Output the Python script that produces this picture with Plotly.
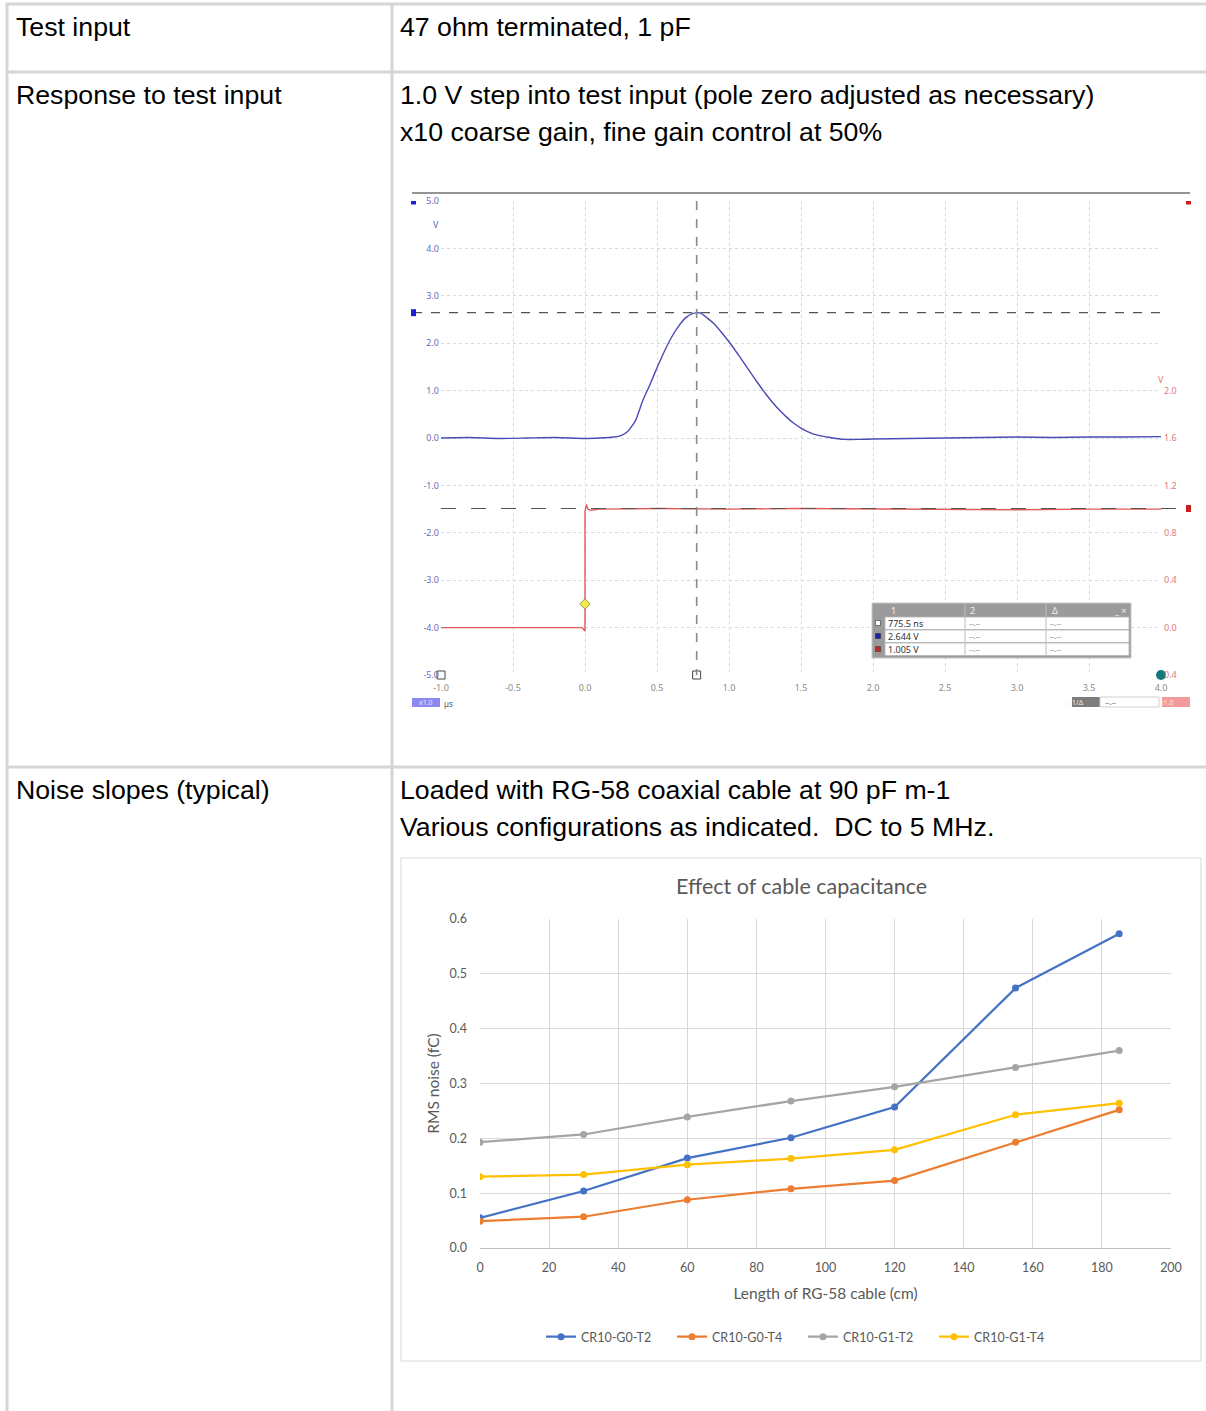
import plotly.graph_objects as go

W, H = 1206, 1411


def px(x):
    return x / W


def py(y):
    return 1 - y / H


# ------------------------------------------------------------------ data
# Oscilloscope, channel A (blue, left axis, V) vs time (us)
scope_t_a = [-1.0, -0.8, -0.6, -0.4, -0.2, 0.0, 0.1, 0.2, 0.25, 0.3, 0.35, 0.4, 0.45,
             0.5, 0.55, 0.6, 0.65, 0.7, 0.75, 0.8, 0.85, 0.9, 0.95, 1.0, 1.05, 1.1,
             1.15, 1.2, 1.25, 1.3, 1.35, 1.4, 1.45, 1.5, 1.55, 1.6, 1.7, 1.8, 1.9,
             2.0, 2.25, 2.5, 2.75, 3.0, 3.25, 3.5, 3.75, 4.0]
scope_v_a = [0.00, 0.01, -0.01, 0.00, 0.01, -0.01, 0.00, 0.02, 0.05, 0.15, 0.36, 0.78,
             1.12, 1.48, 1.82, 2.12, 2.36, 2.54, 2.63, 2.64, 2.53, 2.40, 2.22, 2.03,
             1.82, 1.60, 1.38, 1.16, 0.95, 0.76, 0.59, 0.44, 0.31, 0.21, 0.13, 0.07,
             0.01, -0.03, -0.03, -0.02, -0.01, 0.00, 0.01, 0.02, 0.01, 0.02, 0.02, 0.03]

# Oscilloscope, channel B (red, right axis, V) vs time (us)
scope_t_b = [-1.0, -0.6, -0.2, -0.02, 0.0, 0.0, 0.01, 0.02, 0.04, 0.1, 0.5, 1.0, 1.5,
             2.0, 2.5, 3.0, 3.5, 4.0]
scope_v_b = [0.0, 0.0, 0.0, 0.0, -0.03, 0.98, 1.04, 1.0, 0.99, 1.0, 1.005, 1.0, 1.005,
             1.0, 1.0, 0.995, 1.0, 1.0]

scope_x_ticks = [-1.0, -0.5, 0.0, 0.5, 1.0, 1.5, 2.0, 2.5, 3.0, 3.5, 4.0]
scope_x_text = ["-1.0", "-0.5", "0.0", "0.5", "1.0", "1.5", "2.0", "2.5", "3.0", "3.5", "4.0"]
scope_yl_ticks = [-5, -4, -3, -2, -1, 0, 1, 2, 3, 4, 5]
scope_yl_text = ["-5.0", "-4.0", "-3.0", "-2.0", "-1.0", "0.0", "1.0", "2.0", "3.0", "4.0", "5.0"]
scope_yr_ticks = [-0.4, 0.0, 0.4, 0.8, 1.2, 1.6, 2.0]
scope_yr_text = ["0.4", "0.0", "0.4", "0.8", "1.2", "1.6", "2.0"]
scope_yr_range = [-0.4, 3.6]

# cursor readings
cursor_time_us = [0.7755]
cursor_a_volts = [2.644]
cursor_b_volts = [1.005]
trigger_t = [0.0]
trigger_v = [0.2]

meas_rows = ["775.5 ns", "2.644 V", "1.005 V"]
meas_empty = "--.--"

# Excel chart: RMS noise (fC) vs cable length (cm)
cable_len = [0, 30, 60, 90, 120, 155, 185]
g0t2 = [0.055, 0.104, 0.164, 0.201, 0.257, 0.474, 0.573]
g0t4 = [0.049, 0.057, 0.088, 0.108, 0.123, 0.193, 0.252]
g1t2 = [0.193, 0.207, 0.239, 0.268, 0.294, 0.329, 0.360]
g1t4 = [0.130, 0.134, 0.152, 0.163, 0.179, 0.243, 0.264]
series_names = ["CR10-G0-T2", "CR10-G0-T4", "CR10-G1-T2", "CR10-G1-T4"]
series_colors = ["#4472C4", "#ED7D31", "#A5A5A5", "#FFC000"]

# ------------------------------------------------------------------ figure
fig = go.Figure()

BLUE = "#4b4bb5"
RED = "#e05a5a"

fig.add_trace(go.Scatter(x=scope_t_a, y=scope_v_a, mode="lines", xaxis="x", yaxis="y",
                         line=dict(color=BLUE, width=1.4, shape="spline", smoothing=0.5),
                         showlegend=False, hoverinfo="skip"))
fig.add_trace(go.Scatter(x=scope_t_b, y=scope_v_b, mode="lines", xaxis="x", yaxis="y2",
                         line=dict(color=RED, width=1.4), showlegend=False, hoverinfo="skip"))
fig.add_trace(go.Scatter(x=trigger_t, y=trigger_v, mode="markers", xaxis="x", yaxis="y2",
                         marker=dict(symbol="diamond", size=8, color="#f2e94e",
                                     line=dict(color="#9a9a40", width=1)),
                         showlegend=False, hoverinfo="skip", cliponaxis=False))
# open squares at bottom (time cursor handles), teal dot
fig.add_trace(go.Scatter(x=[scope_x_ticks[0], cursor_time_us[0]], y=[scope_yl_ticks[0]] * 2,
                         mode="markers", xaxis="x", yaxis="y",
                         marker=dict(symbol="square-open", size=8, color="#444",
                                     line=dict(width=1)),
                         showlegend=False, hoverinfo="skip", cliponaxis=False))
fig.add_trace(go.Scatter(x=[scope_x_ticks[-1]], y=[scope_yl_ticks[0]], mode="markers",
                         xaxis="x", yaxis="y",
                         marker=dict(symbol="circle", size=10, color="#127a7a"),
                         showlegend=False, hoverinfo="skip", cliponaxis=False))

for name, vals, col in zip(series_names, [g0t2, g0t4, g1t2, g1t4], series_colors):
    fig.add_trace(go.Scatter(x=cable_len, y=vals, name=name, mode="lines+markers",
                             xaxis="x2", yaxis="y3",
                             line=dict(color=col, width=2.25),
                             marker=dict(color=col, size=7), hoverinfo="skip"))

shapes = []
annotations = []

# ---------------- table grid
TL = "#d6d6d6"
for yy in [4, 72, 767]:
    shapes.append(dict(type="line", xref="paper", yref="paper", x0=px(6), x1=px(1206),
                       y0=py(yy), y1=py(yy), line=dict(color=TL, width=3)))
for xx in [7, 392]:
    shapes.append(dict(type="line", xref="paper", yref="paper", x0=px(xx), x1=px(xx),
                       y0=py(3), y1=py(1411), line=dict(color=TL, width=3)))

TF = dict(family="Liberation Sans, Arial", size=26.7, color="#000")
cells = [
    (14, 27, "Test input"),
    (398, 27, "47 ohm terminated, 1 pF"),
    (14, 95, "Response to test input"),
    (398, 95, "1.0 V step into test input (pole zero adjusted as necessary)"),
    (398, 132, "x10 coarse gain, fine gain control at 50%"),
    (14, 790, "Noise slopes (typical)"),
    (398, 790, "Loaded with RG-58 coaxial cable at 90 pF m-1"),
    (398, 827, "Various configurations as indicated.\u00a0 DC to 5 MHz."),
]
for x, y, t in cells:
    annotations.append(dict(text=t, x=px(x), y=py(y), xref="paper", yref="paper",
                            xanchor="left", yanchor="middle", showarrow=False, font=TF))

# ---------------- oscilloscope decorations
shapes.append(dict(type="line", xref="paper", yref="paper", x0=px(412), x1=px(1190),
                   y0=py(193), y1=py(193), line=dict(color="#2a2a2a", width=1.2)))
# cursor lines
shapes.append(dict(type="line", xref="x", yref="paper", x0=cursor_time_us[0],
                   x1=cursor_time_us[0], y0=py(201), y1=py(675),
                   line=dict(color="#8a8a8a", width=1.6, dash="dash")))
shapes.append(dict(type="line", xref="paper", yref="y", x0=px(413), x1=px(1161),
                   y0=cursor_a_volts[0], y1=cursor_a_volts[0],
                   line=dict(color="#555", width=1.2, dash="dash")))
shapes.append(dict(type="line", xref="paper", yref="y2", x0=px(441), x1=px(1190),
                   y0=cursor_b_volts[0], y1=cursor_b_volts[0],
                   line=dict(color="#555", width=1.2, dash="longdash")))
# channel markers
for yv in [scope_yl_ticks[-1], cursor_a_volts[0]]:
    shapes.append(dict(type="rect", xref="paper", yref="y", x0=px(411), x1=px(416),
                       ysizemode="pixel", yanchor=yv, y0=-3.5, y1=3.5,
                       fillcolor="#1f1fd0", line=dict(width=0)))
for yv in [scope_yr_range[1], cursor_b_volts[0]]:
    shapes.append(dict(type="rect", xref="paper", yref="y2", x0=px(1186), x1=px(1191),
                       ysizemode="pixel", yanchor=yv, y0=-3.5, y1=3.5,
                       fillcolor="#c81e1e", line=dict(width=0)))
annotations.append(dict(text="V", x=px(436), y=py(216), xref="paper", yref="paper",
                        showarrow=False, font=dict(size=9, color="#6a6ab8", family="Noto Sans")))
annotations.append(dict(text="V", x=px(1166), y=py(371), xref="paper", yref="paper",
                        showarrow=False, font=dict(size=9, color="#e07878", family="Noto Sans")))

# measurement box
shapes.append(dict(type="rect", xref="paper", yref="paper", x0=px(872), x1=px(1131),
                   y0=py(603), y1=py(658), fillcolor="#9b9b9b",
                   line=dict(color="#c8c8c8", width=1)))
for r in range(3):
    y0 = 617 + r * 13
    shapes.append(dict(type="rect", xref="paper", yref="paper", x0=px(885), x1=px(1129),
                       y0=py(y0), y1=py(y0 + 12.5), fillcolor="#ffffff",
                       line=dict(color="#b5b5b5", width=0.8)))
for xx in [965, 1046]:
    shapes.append(dict(type="line", xref="paper", yref="paper", x0=px(xx), x1=px(xx),
                       y0=py(604), y1=py(656), line=dict(color="#bdbdbd", width=1)))
icon_cols = ["#ffffff", "#1f1fb0", "#c02a2a"]
for r, c in enumerate(icon_cols):
    yc = 623 + r * 13
    shapes.append(dict(type="rect", xref="paper", yref="paper", x0=px(875.5), x1=px(880.5),
                       y0=py(yc - 2.5), y1=py(yc + 2.5), fillcolor=c,
                       line=dict(color="#333", width=0.6)))
    annotations.append(dict(text=meas_rows[r], x=px(886), y=py(yc), xref="paper",
                            yref="paper", xanchor="left", yanchor="middle", showarrow=False,
                            font=dict(size=9, color="#333", family="Noto Sans")))
    for xx in [967, 1048]:
        annotations.append(dict(text=meas_empty, x=px(xx), y=py(yc), xref="paper",
                                yref="paper", xanchor="left", yanchor="middle",
                                showarrow=False,
                                font=dict(size=7, color="#777", family="Noto Sans")))
for xx, t in [(889, "1"), (968, "2"), (1050, "Δ"), (1112, "_ ×")]:
    annotations.append(dict(text=t, x=px(xx), y=py(610), xref="paper", yref="paper",
                            xanchor="left", yanchor="middle", showarrow=False,
                            font=dict(size=9, color="#f0f0f0", family="Noto Sans")))

# bottom-left time scale badge
shapes.append(dict(type="rect", xref="paper", yref="paper", x0=px(412), x1=px(440),
                   y0=py(698), y1=py(707), fillcolor="#8a8af0", line=dict(width=0)))
annotations.append(dict(text="x1.0", x=px(426), y=py(702.5), xref="paper", yref="paper",
                        showarrow=False, font=dict(size=7, color="#e8e8ff", family="Noto Sans")))
annotations.append(dict(text="µs", x=px(442), y=py(703), xref="paper", yref="paper",
                        xanchor="left", showarrow=False,
                        font=dict(size=8, color="#555", family="Noto Sans")))
# bottom-right badges
shapes.append(dict(type="rect", xref="paper", yref="paper", x0=px(1072), x1=px(1100),
                   y0=py(697), y1=py(707), fillcolor="#7d7d7d", line=dict(width=0)))
shapes.append(dict(type="rect", xref="paper", yref="paper", x0=px(1100), x1=px(1159),
                   y0=py(697), y1=py(707), fillcolor="#ffffff",
                   line=dict(color="#cfcfcf", width=1)))
shapes.append(dict(type="rect", xref="paper", yref="paper", x0=px(1162), x1=px(1190),
                   y0=py(697), y1=py(707), fillcolor="#f39a9a", line=dict(width=0)))
annotations.append(dict(text="\u25a1 1/Δ", x=px(1086), y=py(702), xref="paper", yref="paper",
                        showarrow=False, font=dict(size=7, color="#eee", family="Noto Sans")))
annotations.append(dict(text=meas_empty, x=px(1103), y=py(702), xref="paper", yref="paper",
                        xanchor="left", showarrow=False,
                        font=dict(size=7, color="#555", family="Noto Sans")))
annotations.append(dict(text="x1.0", x=px(1176), y=py(702), xref="paper", yref="paper",
                        showarrow=False, font=dict(size=7, color="#ffe8e8", family="Noto Sans")))

# ---------------- Excel chart frame
shapes.append(dict(type="rect", xref="paper", yref="paper", x0=px(401), x1=px(1201),
                   y0=py(858), y1=py(1361), line=dict(color="#d9d9d9", width=1),
                   fillcolor="rgba(0,0,0,0)", layer="below"))
annotations.append(dict(text="Effect of cable capacitance", x=px(801), y=py(886),
                        xref="paper", yref="paper", showarrow=False,
                        font=dict(family="Lato", size=21.5, color="#595959")))

GRID = "#cddbe3"
XF = dict(family="Lato", size=12.5, color="#595959")
TF2 = dict(family="Lato", size=15.5, color="#595959")
fig.update_layout(
    width=W, height=H, margin=dict(l=0, r=0, t=0, b=0),
    paper_bgcolor="white", plot_bgcolor="rgba(0,0,0,0)",
    template="none",
    xaxis=dict(domain=[px(441), px(1161)], range=[-1, 4], anchor="y",
               tickvals=scope_x_ticks, ticktext=scope_x_text,
               showgrid=True, gridcolor=GRID, griddash="dot", gridwidth=1,
               zeroline=False, showline=False, ticks="", ticklabelstandoff=6,
               tickfont=dict(size=9, color="#8a8a8a", family="Noto Sans")),
    yaxis=dict(domain=[py(675), py(201)], range=[-5, 5], anchor="x",
               tickvals=scope_yl_ticks, ticktext=scope_yl_text,
               showgrid=True, gridcolor=GRID, griddash="dot", gridwidth=1,
               zeroline=False, showline=False, ticks="", ticklabelstandoff=1,
               tickfont=dict(size=9, color="#6a6ab8", family="Noto Sans")),
    yaxis2=dict(overlaying="y", side="right", range=scope_yr_range, anchor="x",
                tickvals=scope_yr_ticks, ticktext=scope_yr_text,
                showgrid=False, zeroline=False, showline=False, ticks="",
                ticklabelstandoff=2,
                tickfont=dict(size=9, color="#e07878", family="Noto Sans")),
    xaxis2=dict(domain=[px(480), px(1171)], range=[0, 200], anchor="y3", dtick=20,
                tick0=0, showgrid=True, gridcolor="#d9d9d9", gridwidth=1,
                zeroline=False, showline=True, linecolor="#bfbfbf", linewidth=1,
                ticks="", ticklabelstandoff=8, tickfont=XF,
                title=dict(text="Length of RG-58 cable (cm)", font=TF2, standoff=14)),
    yaxis3=dict(domain=[py(1248), py(919)], range=[0, 0.6], anchor="x2", dtick=0.1,
                tick0=0, tickformat=".1f", showgrid=True, gridcolor="#d9d9d9",
                gridwidth=1, zeroline=False, showline=False, ticks="",
                ticklabelstandoff=12, tickfont=XF,
                title=dict(text="RMS noise (fC)", font=TF2, standoff=6)),
    legend=dict(orientation="h", x=px(803), y=py(1337), xanchor="center",
                yanchor="middle", font=XF, bgcolor="rgba(0,0,0,0)", itemwidth=30,
                entrywidth=86, entrywidthmode="pixels", tracegroupgap=0),
    shapes=shapes, annotations=annotations,
)

fig.write_html("out.html", config={"displayModeBar": False},
               post_script="document.body.style.margin='0';"
                           "document.body.style.overflow='hidden';")
